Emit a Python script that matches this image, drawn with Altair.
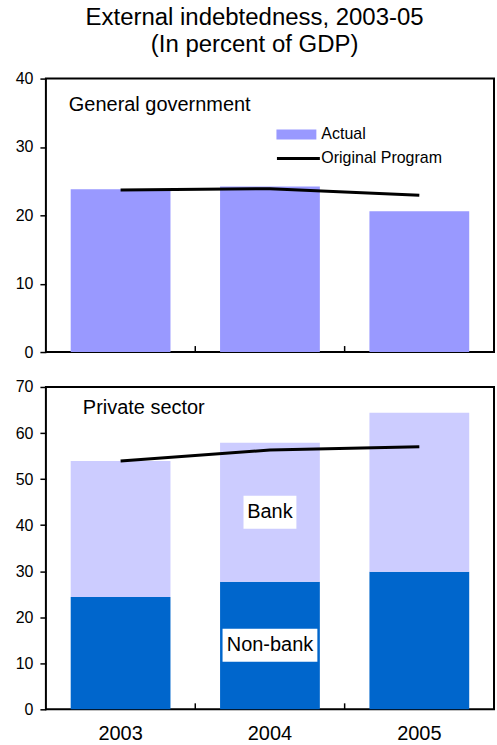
import altair as alt
import pandas as pd

years = ["2003", "2004", "2005"]
gov_actual = [23.8, 24.2, 20.6]
gov_program = [23.7, 23.9, 22.95]
priv_nonbank = [24.4, 27.7, 29.9]
priv_bank = [29.5, 30.2, 34.5]
priv_program = [53.9, 56.3, 57.0]
boundary_years = ["2004", "2005"]
label_year = "2004"
bank_label_y = 42.8
nonbank_label_y = 13.9

FONT = "Liberation Sans"
W = 449
H1 = 274
H2 = 323

xscale = alt.Scale(domain=years, paddingInner=0, paddingOuter=0)

gov = pd.DataFrame({"year": years, "actual": gov_actual, "program": gov_program,
                    "s1": "Actual", "s2": "Original Program"})
bnd = pd.DataFrame({"year": boundary_years})
one = pd.DataFrame({"k": [0]})

top_bars = alt.Chart(gov).mark_bar(width=alt.RelativeBandSize(0.668)).encode(
    x=alt.X("year:N", scale=xscale, axis=None),
    y=alt.Y("actual:Q", scale=alt.Scale(domain=[0, 40]),
            axis=alt.Axis(values=[0, 10, 20, 30, 40], title=None)),
    color=alt.Color("s1:N", scale=alt.Scale(domain=["Actual"], range=["#9999FF"]),
                    legend=alt.Legend(orient="none", legendX=231, legendY=36, title=None,
                                      symbolType="M-1,-0.25H1V0.25H-1Z", symbolSize=1600,
                                      symbolStrokeWidth=0, labelFontSize=16, labelFont=FONT,
                                      labelOffset={"expr": "5"}, padding=0)),
)
top_line = alt.Chart(gov).mark_line(strokeWidth=3).encode(
    x=alt.X("year:N", scale=xscale, axis=None),
    y=alt.Y("program:Q"),
    stroke=alt.Stroke("s2:N", scale=alt.Scale(domain=["Original Program"], range=["black"]),
                      legend=alt.Legend(orient="none", legendX=230, legendY=57, title=None,
                                        symbolType="stroke", symbolSize=1849,
                                        symbolStrokeWidth=3, labelFontSize=16, labelFont=FONT,
                                        labelOffset=0, padding=0)),
)
top_ticks = alt.Chart(bnd).mark_rule(color="black", strokeWidth=1.5).encode(
    x=alt.X("year:N", scale=xscale, bandPosition=0, axis=None),
    y=alt.value(H1), y2=alt.value(H1 - 6),
)
top_label = alt.Chart(one).mark_text(text="General government", align="left", baseline="middle",
                                     fontSize=20, font=FONT, fontWeight="normal",
                                     color="black").encode(
    x=alt.value(23), y=alt.value(26))

top = alt.layer(top_bars, top_line, top_ticks, top_label).properties(width=W, height=H1)

rows = []
for i, yv in enumerate(years):
    rows.append({"year": yv, "part": "Non-bank", "val": priv_nonbank[i], "ord": 0})
    rows.append({"year": yv, "part": "Bank", "val": priv_bank[i], "ord": 1})
priv = pd.DataFrame(rows)
prog = pd.DataFrame({"year": years, "program": priv_program})
labs = pd.DataFrame({"year": [label_year, label_year], "y": [bank_label_y, nonbank_label_y],
                     "text": ["Bank", "Non-bank"]})

bot_bars = alt.Chart(priv).mark_bar(width=alt.RelativeBandSize(0.668)).encode(
    x=alt.X("year:N", scale=xscale,
            axis=alt.Axis(title=None, labelAngle=0, ticks=False, domain=False,
                          labelFontSize=20, labelPadding=14)),
    y=alt.Y("val:Q", stack="zero", scale=alt.Scale(domain=[0, 70]),
            axis=alt.Axis(values=[0, 10, 20, 30, 40, 50, 60, 70], title=None)),
    color=alt.Color("part:N", scale=alt.Scale(domain=["Non-bank", "Bank"],
                                              range=["#0066CC", "#CCCCFF"]), legend=None),
    order=alt.Order("ord:Q"),
)
bot_line = alt.Chart(prog).mark_line(strokeWidth=3, color="black").encode(
    x=alt.X("year:N", scale=xscale), y=alt.Y("program:Q"))
bot_ticks = alt.Chart(bnd).mark_rule(color="black", strokeWidth=1.5).encode(
    x=alt.X("year:N", scale=xscale, bandPosition=0),
    y=alt.value(H2), y2=alt.value(H2 - 6),
)
bank_box = alt.Chart(labs[labs.text == "Bank"]).mark_point(
    shape="M-1,-0.623H1V0.623H-1Z", size=2809, filled=True, fill="white", opacity=1,
    strokeWidth=0).encode(x=alt.X("year:N", scale=xscale), y=alt.Y("y:Q"))
nb_box = alt.Chart(labs[labs.text == "Non-bank"]).mark_point(
    shape="M-1,-0.347H1V0.347H-1Z", size=9025, filled=True, fill="white", opacity=1,
    strokeWidth=0).encode(x=alt.X("year:N", scale=xscale), y=alt.Y("y:Q"))
lab_text = alt.Chart(labs).mark_text(fontSize=20, font=FONT, color="black",
                                     fontWeight="normal", baseline="middle").encode(
    x=alt.X("year:N", scale=xscale), y=alt.Y("y:Q"), text="text:N")
bot_label = alt.Chart(one).mark_text(text="Private sector", align="left", baseline="middle",
                                     fontSize=20, font=FONT, fontWeight="normal",
                                     color="black").encode(
    x=alt.value(37), y=alt.value(21))

bottom = alt.layer(bot_bars, bot_line, bot_ticks, bank_box, nb_box, lab_text,
                   bot_label).properties(width=W, height=H2)

chart = alt.vconcat(top, bottom, spacing=17).resolve_scale(
    color="independent", stroke="independent").resolve_legend(
    color="independent", stroke="independent").properties(
    title=alt.TitleParams(["External indebtedness, 2003-05", "(In percent of GDP)"],
                          fontSize=24, font=FONT, fontWeight="normal", anchor="middle",
                          lineHeight=27, offset=13, color="black"),
    padding={"left": 14, "top": 5, "right": 2, "bottom": 0},
    background="white",
).configure_view(stroke="black", strokeWidth=2).configure_axis(
    grid=False, domain=False, labelFont=FONT, labelColor="black", tickColor="black",
    tickWidth=1.5, tickSize=6, labelFontSize=16, labelPadding=7,
).configure_text(font=FONT)

chart.save("out.html", embed_options={"renderer": "svg", "actions": False})
